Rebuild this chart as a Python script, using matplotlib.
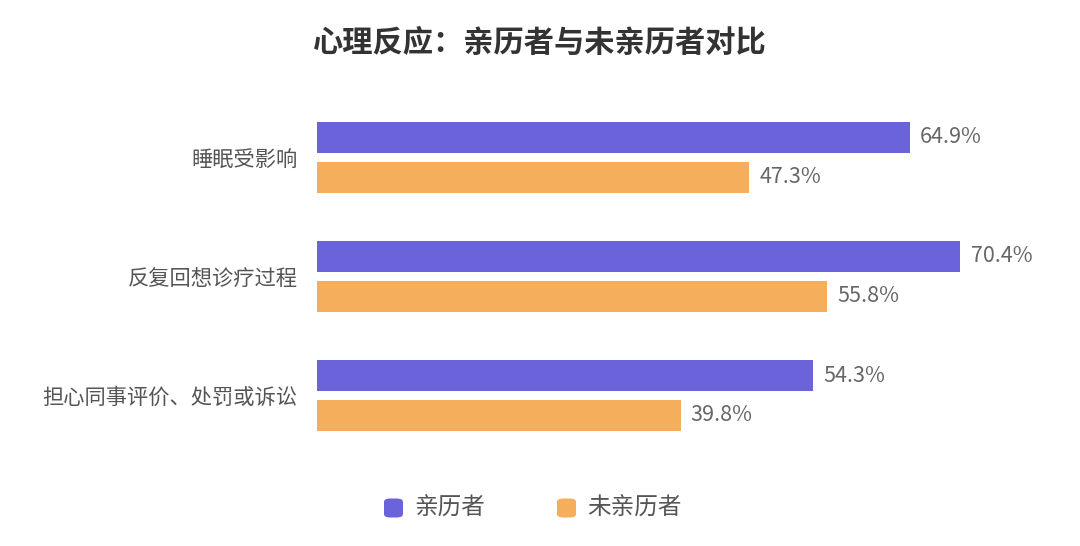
import matplotlib
matplotlib.use('Agg')
import matplotlib.pyplot as plt
from matplotlib.patches import FancyBboxPatch
import numpy as np

plt.rcParams['font.family'] = ['Noto Sans CJK SC', 'DejaVu Sans']

categories = ['睡眠受影响', '反复回想诊疗过程', '担心同事评价、处罚或诉讼']
series_names = ['亲历者', '未亲历者']
experienced = [64.9, 70.4, 54.3]
not_experienced = [47.3, 55.8, 39.8]

purple = '#6A63DA'
orange = '#F4AE5C'

fig = plt.figure(figsize=(10.8, 5.46), dpi=100)
ax = fig.add_axes([317 / 1080, 1 - 450 / 546, (1040 - 317) / 1080, 350 / 546])

y = np.arange(len(categories))
h = 0.26
off = 0.168
ax.barh(y - off, experienced, height=h, color=purple)
ax.barh(y + off, not_experienced, height=h, color=orange)

for i in range(len(categories)):
    ax.text(experienced[i] + 1.1, y[i] - off, f'{experienced[i]:.1f}%',
            va='center', ha='left', fontsize=15.5, color='#666666')
    ax.text(not_experienced[i] + 1.1, y[i] + off, f'{not_experienced[i]:.1f}%',
            va='center', ha='left', fontsize=15.5, color='#666666')

ax.set_xlim(0, (1040 - 317) / 9.14)
ax.set_ylim(2.458, -0.483)
ax.set_yticks(y)
ax.set_yticklabels(categories, fontsize=15.3, color='#555555')
ax.tick_params(axis='y', length=0, pad=14)
ax.set_xticks([])
for s in ax.spines.values():
    s.set_visible(False)

fig.text(0.5, 1 - 43 / 546, '心理反应：亲历者与未亲历者对比', ha='center', va='center',
         fontsize=21.8, fontweight='bold', color='#333333')

# legend drawn by hand: rounded squares + labels
leg_y = 1 - 508 / 546
sq = 19
for name, col, x0 in zip(series_names, [purple, orange], [384, 557]):
    fig.patches.append(FancyBboxPatch(
        (x0 / 1080, leg_y - sq / 2 / 546), sq / 1080, sq / 546,
        boxstyle='round,pad=0,rounding_size=0.006', transform=fig.transFigure,
        facecolor=col, edgecolor='none'))
    fig.text((x0 + sq + 11) / 1080, leg_y, name, ha='left', va='center',
             fontsize=17, color='#555555')

fig.savefig('out.png', dpi=100)
